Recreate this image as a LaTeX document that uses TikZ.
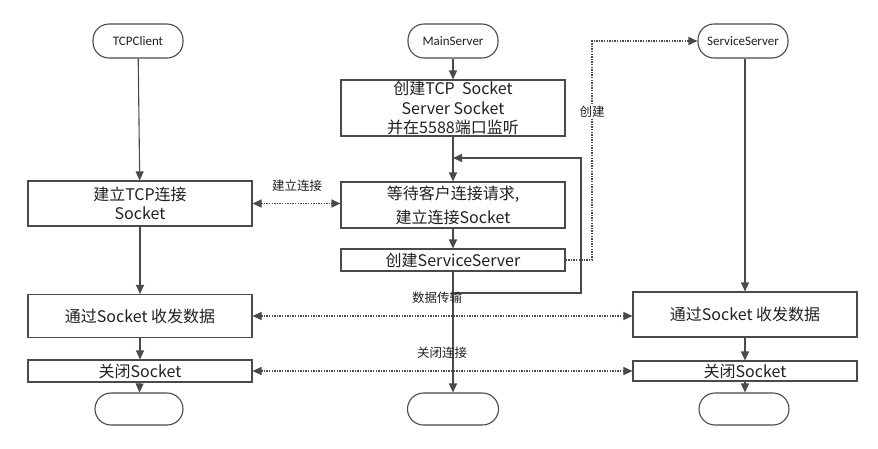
\documentclass[tikz,border=0pt]{standalone}
\usepackage{fontspec}
\setmainfont{Noto Sans CJK SC}
\newfontfamily\pillfont{Carlito}
\usetikzlibrary{arrows.meta}
\definecolor{ln}{HTML}{4A4A4A}
\definecolor{tx}{HTML}{202020}
\tikzset{
  pill/.style={draw=ln, line width=1.1pt, rounded corners=16pt, minimum width=90pt, minimum height=34pt, font=\pillfont\fontsize{13}{15}\selectfont, text=tx},
  boxnode/.style={draw=ln, line width=1.1pt, minimum width=224pt, align=center, inner sep=0pt, font=\fontsize{16}{19.5}\selectfont, text=tx},
  arr/.style={draw=ln, line width=1.1pt, -{Triangle[length=9pt,width=8pt]}},
  dotln/.style={draw=ln, line width=1.1pt, dash pattern=on 1.4pt off 1.2pt},
  darr/.style={dotln, {Triangle[length=9pt,width=8pt]}-{Triangle[length=9pt,width=8pt]}},
  sarr/.style={dotln, -{Triangle[length=9pt,width=8pt]}},
  lbl/.style={font=\fontsize{12.5}{14}\selectfont, text=tx, inner sep=1pt}
}
\begin{document}
\begin{tikzpicture}[x=1pt,y=-1pt]
\useasboundingbox (0,0) rectangle (878,448);
% start pills
\node[pill] (TC) at (138,41) {TCPClient};
\node[pill] (MS) at (453,41) {MainServer};
\node[pill] (SS) at (743,41) {ServiceServer};
% left column
\node[boxnode, minimum height=45pt] (L1) at (140,203.5) {建立TCP连接\\Socket};
\node[boxnode, minimum height=43pt] (L2) at (140,316) {通过Socket 收发数据};
\node[boxnode, minimum height=22pt] (L3) at (140,371) {关闭Socket};
\node[pill, minimum width=88pt, minimum height=32pt] (LE) at (139,409) {};
% main column
\node[boxnode, minimum height=56pt] (M1) at (453,108) {创建TCP\ \ Socket\\Server Socket\\并在5588端口监听};
\node[boxnode, minimum height=46pt, font=\fontsize{16}{24}\selectfont] (M2) at (453,205) {等待客户连接请求,\\建立连接Socket};
\node[boxnode, minimum height=22pt] (M3) at (453,260) {创建ServiceServer};
\node[pill, minimum width=91pt, minimum height=32pt] (ME) at (453,409) {};
% right column
\node[boxnode, minimum height=45pt] (R2) at (745,314.5) {通过Socket 收发数据};
\node[boxnode, minimum height=20pt] (R3) at (745,371) {关闭Socket};
\node[pill, minimum width=90pt, minimum height=32pt] (RE) at (744,409) {};
% coordinates
\coordinate (lb) at (453,293);
\coordinate (lt) at (453,158);
\coordinate (lr) at (581,225);
\coordinate (cr) at (592,150);
% solid arrows
\draw[arr] (TC) -- (L1);
\draw[arr] (L1) -- (L2);
\draw[arr] (L2) -- (L3);
\draw[arr] (L3) -- (LE);
\draw[arr] (MS) -- (M1);
\draw[arr] (M1) -- (M2);
\draw[arr] (M2) -- (M3);
\draw[arr] (M3) -- (ME);
\draw[arr] (lb) -| (lr) |- (lt);
\draw[arr] (SS.south -| R2.north) -- (R2);
\draw[arr] (R2) -- (R3);
\draw[arr] (R3) -- (RE.north -| R3.south);
% dotted
\draw[sarr] (M3.east) -| (cr) |- (SS.west);
\node[lbl, fill=white] (cl) at (592,112) {创建};
\draw[darr] (L1.east) -- (L1.east -| M2.west);
\draw[darr] (L2.east) -- (L2.east -| R2.west);
\draw[darr] (L3.east) -- (L3.east -| R3.west);
% labels
\node[lbl] (l1) at (297,186) {建立连接};
\node[lbl] (l2) at (437,298) {数据传输};
\node[lbl] (l3) at (442,353) {关闭连接};
\end{tikzpicture}
\end{document}
